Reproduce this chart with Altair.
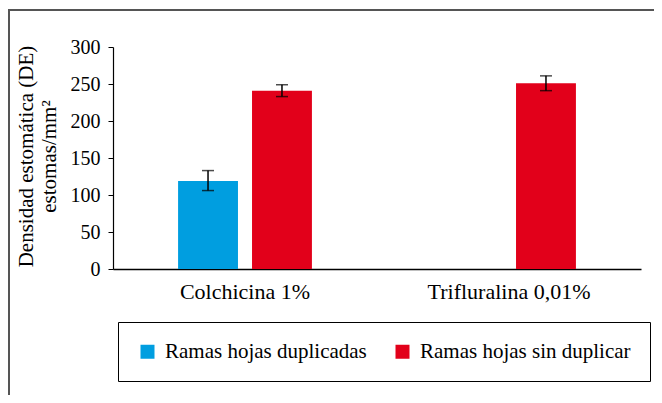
import altair as alt
import pandas as pd

# ---- data ----
categories = ["Colchicina 1%", "Trifluralina 0,01%"]
series_names = ["Ramas hojas duplicadas", "Ramas hojas sin duplicar"]

bar_category = ["Colchicina 1%", "Colchicina 1%", "Trifluralina 0,01%"]
bar_series = ["Ramas hojas duplicadas", "Ramas hojas sin duplicar", "Ramas hojas sin duplicar"]
bar_value = [119, 241, 251]
err_low = [106, 233, 241]
err_high = [133, 249, 261]

y_ticks = [0, 50, 100, 150, 200, 250, 300]
colors = ["#009EE0", "#E2001A"]

df = pd.DataFrame({
    "category": bar_category,
    "series": bar_series,
    "value": bar_value,
    "lo": err_low,
    "hi": err_high,
})

FONT = "Liberation Serif"

x_enc = alt.X(
    "category:N",
    scale=alt.Scale(domain=categories, paddingInner=0, paddingOuter=0),
    axis=alt.Axis(title=None, labelAngle=0, ticks=False, labelPadding=12,
                  labelFont=FONT, labelFontSize=22, labelColor="black",
                  domainColor="black", domainWidth=1.5),
)
xo_enc = alt.XOffset(
    "series:N",
    scale=alt.Scale(domain=series_names, paddingInner=0.19, paddingOuter=0.88),
)
y_scale = alt.Scale(domain=[0, 300], nice=False)
y_axis = alt.Axis(
    values=y_ticks, grid=False, tickSize=5, tickColor="black",
    domainColor="black", domainWidth=1.2, labelPadding=8,
    labelFont=FONT, labelFontSize=20, labelColor="black", labelOverlap=False,
    title=["Densidad estomática (DE)", "estomas/mm²"],
    titleFont=FONT, titleColor="black",
    titleFontSize=21, titleFontWeight="normal", titleLineHeight=23,
    titleBaseline="alphabetic", titleX=-81, titleY=109,
)

base = alt.Chart(df)

bars = base.mark_bar().encode(
    x=x_enc,
    xOffset=xo_enc,
    y=alt.Y("value:Q", scale=y_scale, axis=y_axis),
    color=alt.Color(
        "series:N",
        scale=alt.Scale(domain=series_names, range=colors),
        title=None,
        legend=alt.Legend(
            orient="none", legendX=5, legendY=275, direction="horizontal",
            columns=2, columnPadding=25, labelOffset=7, symbolType="square",
            symbolSize=196, symbolStrokeWidth=0, labelFont=FONT, labelFontSize=21,
            labelLimit=400, padding=19, strokeColor="black", labelColor="black",
        ),
    ),
)

err_rule = base.mark_rule(color="black", strokeWidth=1.5).encode(
    x=x_enc, xOffset=xo_enc,
    y=alt.Y("lo:Q", scale=y_scale, axis=y_axis), y2="hi:Q",
)
err_top = base.mark_tick(color="black", size=12, thickness=1.5).encode(
    x=x_enc, xOffset=xo_enc, y=alt.Y("hi:Q", scale=y_scale, axis=y_axis),
)
err_bot = base.mark_tick(color="black", size=12, thickness=1.5).encode(
    x=x_enc, xOffset=xo_enc, y=alt.Y("lo:Q", scale=y_scale, axis=y_axis),
)

frame_df = pd.DataFrame({"a": [0]})
frame_left = alt.Chart(frame_df).mark_rule(color="#555555", strokeWidth=2).encode(
    x=alt.value(-104), y=alt.value(-38), y2=alt.value(400)
)
frame_top = alt.Chart(frame_df).mark_rule(color="#555555", strokeWidth=2).encode(
    x=alt.value(-110), x2=alt.value(600), y=alt.value(-37)
)

chart = alt.layer(bars, err_rule, err_top, err_bot, frame_left, frame_top).properties(
    width=528,
    height=222,
    autosize=alt.AutoSizeParams(type="none"),
    padding={"left": 105, "top": 39, "right": 13, "bottom": 126},
    background="white",
).configure_view(stroke=None)

chart.save("out.html", embed_options={"renderer": "svg", "actions": False})
